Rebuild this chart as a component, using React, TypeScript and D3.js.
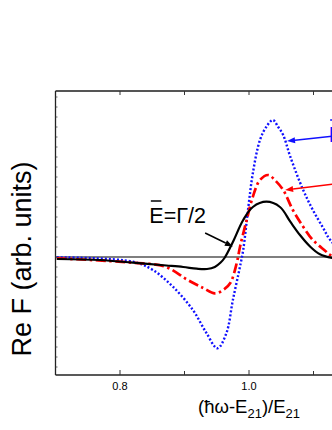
import React from 'react';
import * as d3 from 'd3';

// x values: (hw - E21)/E21, y values: Re F in arbitrary units
const blackX = [0.702, 0.769, 0.82, 0.872, 0.898, 0.919, 0.935, 0.947, 0.956, 0.962, 0.975, 0.991, 1.006, 1.027, 1.048, 1.064, 1.079, 1.095, 1.11, 1.129, 1.15, 1.18];
const blackY = [-0.02, -0.03, -0.057, -0.085, -0.1, -0.117, -0.12, -0.1, -0.055, -0.01, 0.15, 0.37, 0.5, 0.553, 0.5, 0.353, 0.22, 0.103, 0.027, -0.01, -0.025, -0.025];

const redX = [0.702, 0.82, 0.87, 0.905, 0.929, 0.947, 0.96, 0.971, 0.981, 0.986, 0.996, 1.006, 1.017, 1.03, 1.04, 1.053, 1.068, 1.084, 1.099, 1.118, 1.126, 1.15, 1.18];
const redY = [-0.013, -0.057, -0.097, -0.23, -0.31, -0.363, -0.33, -0.26, -0.06, 0.1, 0.36, 0.603, 0.77, 0.82, 0.77, 0.67, 0.47, 0.303, 0.17, 0.063, 0.02, -0.01, -0.02];

const blueX = [0.702, 0.82, 0.851, 0.882, 0.913, 0.934, 0.951, 0.965, 0.975, 0.986, 0.991, 0.999, 1.006, 1.017, 1.027, 1.037, 1.045, 1.053, 1.064, 1.084, 1.099, 1.115, 1.126, 1.15, 1.18];
const blueY = [-0.003, -0.047, -0.13, -0.297, -0.53, -0.76, -0.913, -0.76, -0.43, -0.097, 0.07, 0.5, 0.84, 1.17, 1.303, 1.37, 1.303, 1.22, 1.003, 0.67, 0.47, 0.29, 0.17, 0.03, -0.01];

const xTickLabels = [0.8, 1.0];
const xTicksAll = [0.8, 0.9, 1.0, 1.1, 1.2];

const width = 332;
const height = 430;
const margin = { top: 91, left: 55.5, bottom: 375 };

const x = d3.scaleLinear().domain([0.7, 1.3]).range([margin.left, margin.left + 0.6 * 645]);
const y = d3.scaleLinear().domain([-1.18, 1.66]).range([margin.bottom, margin.top]);

const line = d3.line<[number, number]>()
    .x(d => x(d[0]))
    .y(d => y(d[1]))
    .curve(d3.curveCatmullRom.alpha(0.5));

const zip = (xs: number[], ys: number[]) => xs.map((v, i) => [v, ys[i]] as [number, number]);

const font = 'Arial, "Liberation Sans", sans-serif';

const Arrow = ({ from, to, color }: { from: [number, number]; to: [number, number]; color: string }) => {
    const x1 = x(from[0]), y1 = y(from[1]), x2 = x(to[0]), y2 = y(to[1]);
    const ang = Math.atan2(y2 - y1, x2 - x1);
    const len = 8, half = 3;
    const bx = x2 - len * Math.cos(ang), by = y2 - len * Math.sin(ang);
    const p1 = [bx + half * Math.sin(ang), by - half * Math.cos(ang)];
    const p2 = [bx - half * Math.sin(ang), by + half * Math.cos(ang)];
    return (
        <g>
            <line x1={x1} y1={y1} x2={bx} y2={by} stroke={color} strokeWidth={1.5} />
            <polygon points={`${x2},${y2} ${p1[0]},${p1[1]} ${p2[0]},${p2[1]}`} fill={color} />
        </g>
    );
};

const Label = ({ at, text, color }: { at: [number, number]; text: string; color: string }) => {
    const tx = x(at[0]), ty = y(at[1]);
    return (
        <g>
            <line x1={tx + 1.5} x2={tx + 12} y1={ty - 22} y2={ty - 22} stroke={color} strokeWidth={1.5} />
            <text x={tx} y={ty} fontSize={21.5} fontFamily={font} fill={color}>{text}</text>
        </g>
    );
};

const App = () => {
    const yTicks = d3.range(-1.1, 1.66, 0.1);
    const right = x(1.3);
    return (
        <svg width={width} height={height} style={{ position: 'absolute', left: 0, top: 0 }}>
            <rect width={width} height={height} fill="#fff" />
            {/* zero line */}
            <line x1={margin.left} x2={right} y1={y(0)} y2={y(0)} stroke="#000" strokeWidth={1.2} />

            <path d={line(zip(blueX, blueY)) || ''} fill="none" stroke="#1010ff" strokeWidth={2.4} strokeDasharray="2,2" />
            <path d={line(zip(redX, redY)) || ''} fill="none" stroke="#ff0000" strokeWidth={2.7} strokeDasharray="10,3.5,2.5,3.5" />
            <path d={line(zip(blackX, blackY)) || ''} fill="none" stroke="#000" strokeWidth={2.2} />

            {/* frame */}
            <line x1={margin.left} x2={right} y1={margin.top} y2={margin.top} stroke="#555" strokeWidth={2} />
            <line x1={margin.left} x2={right} y1={margin.bottom} y2={margin.bottom} stroke="#222" strokeWidth={1.3} />
            <line x1={margin.left} x2={margin.left} y1={margin.top} y2={margin.bottom} stroke="#222" strokeWidth={1.3} />

            {xTicksAll.map(t => (
                <g key={t}>
                    <line x1={x(t)} x2={x(t)} y1={margin.top} y2={margin.top + 4} stroke="#333" strokeWidth={1} />
                    <line x1={x(t)} x2={x(t)} y1={margin.bottom} y2={margin.bottom - (xTickLabels.includes(t) ? 5 : 4)} stroke="#333" strokeWidth={1} />
                </g>
            ))}
            {yTicks.map((t, i) => (
                <line key={i} x1={margin.left} x2={margin.left + 2} y1={y(t)} y2={y(t)} stroke="#444" strokeWidth={0.8} />
            ))}
            {xTickLabels.map(t => (
                <text key={t} x={x(t)} y={390} fontSize={11} fontFamily={font} textAnchor="middle">{t.toFixed(1)}</text>
            ))}

            {/* axis titles */}
            <text transform={`translate(31,259) rotate(-90)`} fontSize={27} fontFamily={font} textAnchor="middle">Re F (arb. units)</text>
            <text x={x(1.0)} y={413} fontSize={18.5} fontFamily={font} textAnchor="middle">
                (ħω-E<tspan fontSize={13} dy={5}>21</tspan><tspan dy={-5}>)/E</tspan><tspan fontSize={13} dy={5}>21</tspan>
            </text>

            {/* annotations */}
            <Label at={[0.8455, 0.34]} text="E=Γ/2" color="#000" />
            <Arrow from={[0.932, 0.24]} to={[0.975, 0.105]} color="#000" />

            <Label at={[1.1235, 1.15]} text="E" color="#1010ff" />
            <Arrow from={[1.132, 1.21]} to={[1.059, 1.16]} color="#1010ff" />

            <Arrow from={[1.132, 0.73]} to={[1.056, 0.67]} color="#ff0000" />
        </svg>
    );
};

export default App;
